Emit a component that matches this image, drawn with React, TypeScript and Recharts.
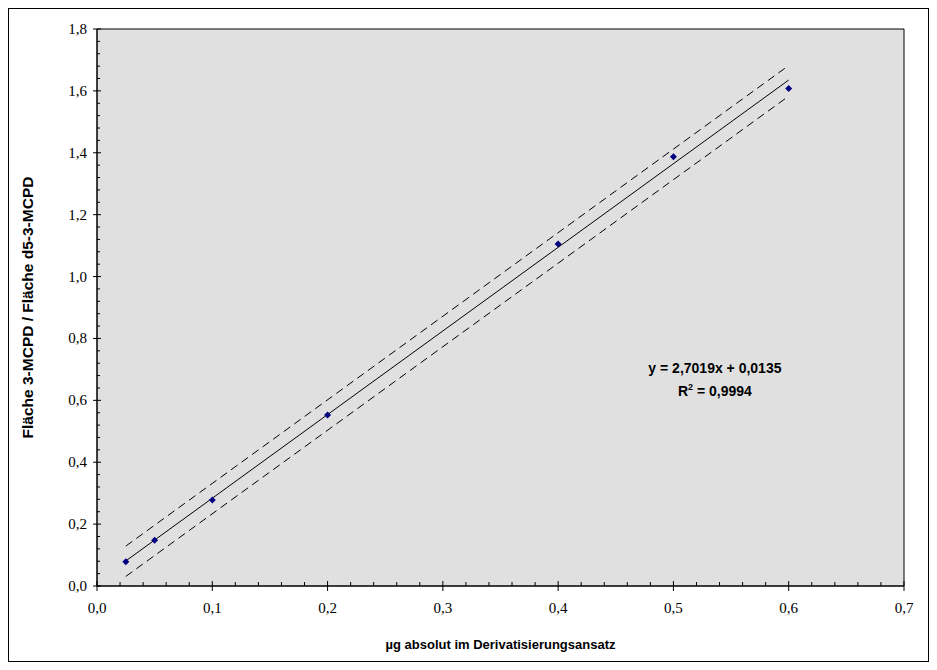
import React from 'react';
import { ScatterChart, Scatter, XAxis, YAxis, ReferenceArea, ReferenceDot } from 'recharts';

// measured calibration points
const standards = [
  { x: 0.025, y: 0.078 },
  { x: 0.05, y: 0.148 },
  { x: 0.1, y: 0.278 },
  { x: 0.2, y: 0.553 },
  { x: 0.4, y: 1.105 },
  { x: 0.5, y: 1.387 },
  { x: 0.6, y: 1.608 },
];

// regression line and prediction band ends
const regression = [
  { x: 0.025, y: 0.081 },
  { x: 0.6, y: 1.635 },
];
const upperBand = [
  { x: 0.025, y: 0.129 },
  { x: 0.6, y: 1.682 },
];
const lowerBand = [
  { x: 0.025, y: 0.031 },
  { x: 0.6, y: 1.583 },
];

const xMajor = [0, 0.1, 0.2, 0.3, 0.4, 0.5, 0.6, 0.7];
const yMajor = [0, 0.2, 0.4, 0.6, 0.8, 1.0, 1.2, 1.4, 1.6, 1.8];

const xTicks = [
  ...xMajor,
  ...xMajor.slice(0, -1).flatMap((m) => [0.02, 0.04, 0.06, 0.08].map((d) => +(m + d).toFixed(2))),
];
const yTicks = [
  ...yMajor,
  ...yMajor.slice(0, -1).flatMap((m) => [0.04, 0.08, 0.12, 0.16].map((d) => +(m + d).toFixed(2))),
];

const isMajor = (list: number[], v: number) => list.some((m) => Math.abs(m - v) < 1e-6);
const fmt = (v: number) => v.toFixed(1).replace('.', ',');

const serif = '"Liberation Serif", "Times New Roman", serif';
const sans = '"Liberation Sans", Arial, sans-serif';

const XTick = (props: any) => {
  const { x, y, payload } = props;
  if (!isMajor(xMajor, payload.value)) {
    return <line x1={x} x2={x} y1={y - 4} y2={y} stroke="#000" />;
  }
  return (
    <g>
      <line x1={x} x2={x} y1={y - 5} y2={y + 5} stroke="#000" />
      <text x={x} y={y + 27} textAnchor="middle" fontFamily={serif} fontSize={15} fill="#000">
        {fmt(payload.value)}
      </text>
    </g>
  );
};

const YTick = (props: any) => {
  const { x, y, payload } = props;
  if (!isMajor(yMajor, payload.value)) {
    return <line x1={x} x2={x + 3} y1={y} y2={y} stroke="#000" />;
  }
  return (
    <g>
      <line x1={x - 4} x2={x + 4} y1={y} y2={y} stroke="#000" />
      <text x={x - 10} y={y + 5} textAnchor="end" fontFamily={serif} fontSize={15} fill="#000">
        {fmt(payload.value)}
      </text>
    </g>
  );
};

const Diamond = (props: any) => {
  const { cx, cy } = props;
  const r = 3.5;
  return <polygon points={`${cx},${cy - r} ${cx + r},${cy} ${cx},${cy + r} ${cx - r},${cy}`} fill="#000080" />;
};

const NoDot = () => null;

const Equation = (props: any) => {
  const { viewBox } = props;
  const cx = viewBox.x;
  const cy = viewBox.y;
  return (
    <g fontFamily={sans} fontWeight="bold" fontSize={14} fill="#000">
      <text x={cx} y={cy - 6} textAnchor="middle">y = 2,7019x + 0,0135</text>
      <text x={cx} y={cy + 17} textAnchor="middle">
        R<tspan fontSize={9} dy={-6}>2</tspan>
        <tspan dy={6}> = 0,9994</tspan>
      </text>
    </g>
  );
};

export default function App() {
  return (
    <div style={{ width: 919, height: 652, border: '1px solid #000' }}>
      <ScatterChart width={919} height={652} margin={{ top: 20, right: 24, left: 0, bottom: 0 }}>
        <XAxis
          type="number"
          dataKey="x"
          domain={[0, 0.7]}
          ticks={xTicks}
          interval={0}
          tickSize={0}
          tickMargin={0}
          tick={<XTick />}
          axisLine={{ stroke: '#000' }}
          height={75}
          allowDataOverflow
          label={(p: any) => (
            <text
              x={p.viewBox.x + p.viewBox.width / 2}
              y={p.viewBox.y + 63}
              textAnchor="middle"
              fontFamily={sans}
              fontWeight="bold"
              fontSize={13}
              fill="#000"
            >
              µg absolut im Derivatisierungsansatz
            </text>
          )}
        />
        <YAxis
          type="number"
          dataKey="y"
          domain={[0, 1.8]}
          ticks={yTicks}
          interval={0}
          tickSize={0}
          tickMargin={0}
          tick={<YTick />}
          axisLine={{ stroke: '#000' }}
          width={88}
          allowDataOverflow
          label={(p: any) => {
            const x = p.viewBox.x + 24;
            const y = p.viewBox.y + p.viewBox.height / 2;
            return (
              <text
                x={x}
                y={y}
                transform={`rotate(-90, ${x}, ${y})`}
                textAnchor="middle"
                fontFamily={sans}
                fontWeight="bold"
                fontSize={15.5}
                fill="#000"
              >
                Fläche 3-MCPD / Fläche d5-3-MCPD
              </text>
            );
          }}
        />
        <ReferenceArea x1={0} x2={0.7} y1={0} y2={1.8} fill="#e0e0e0" fillOpacity={1} stroke="#000" strokeWidth={1} />
        <Scatter data={upperBand} line={{ stroke: '#000', strokeWidth: 1, strokeDasharray: '8 5' }} shape={<NoDot />} isAnimationActive={false} />
        <Scatter data={lowerBand} line={{ stroke: '#000', strokeWidth: 1, strokeDasharray: '8 5' }} shape={<NoDot />} isAnimationActive={false} />
        <Scatter data={regression} line={{ stroke: '#000', strokeWidth: 1 }} shape={<NoDot />} isAnimationActive={false} />
        <Scatter data={standards} shape={<Diamond />} isAnimationActive={false} />
        <ReferenceDot x={0.536} y={0.67} r={0} fill="none" stroke="none" label={<Equation />} />
      </ScatterChart>
    </div>
  );
}
